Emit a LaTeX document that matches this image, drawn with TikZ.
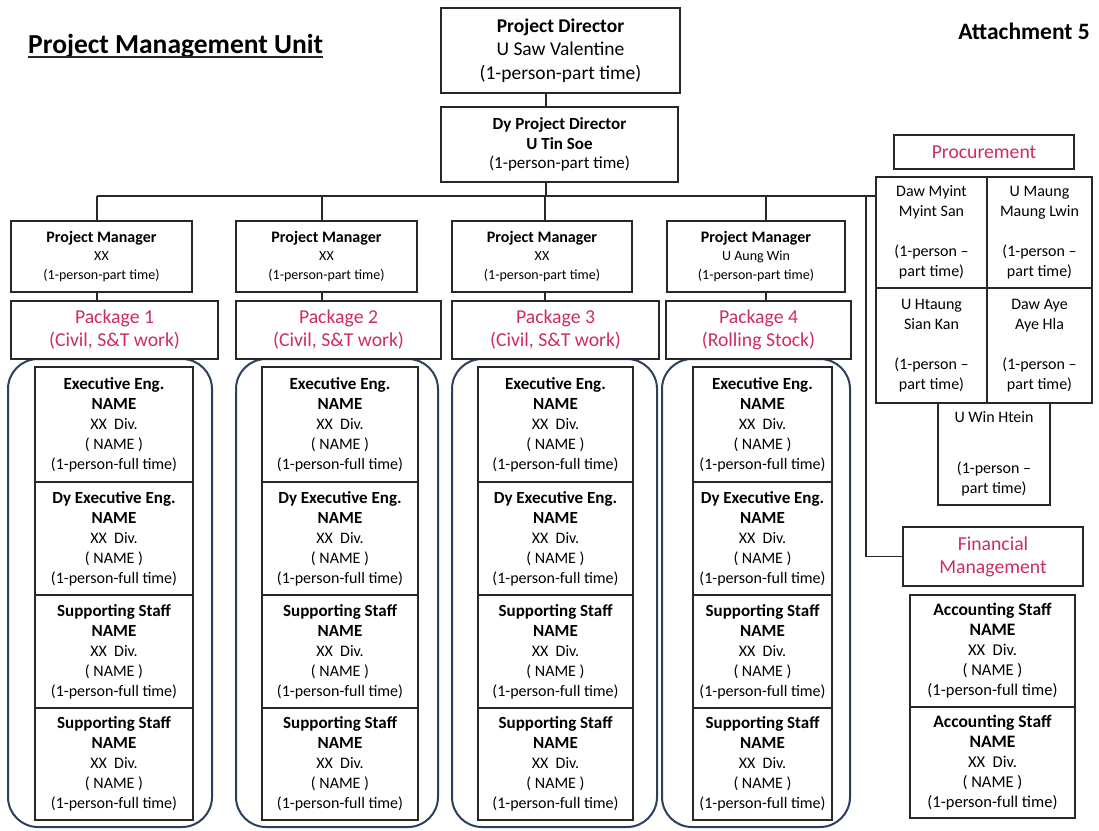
\documentclass[tikz,border=0pt]{standalone}
\usepackage{fontspec}
\setmainfont{Carlito}
\definecolor{ink}{RGB}{40,40,40}
\definecolor{pkred}{RGB}{205,45,95}
\definecolor{lanecol}{RGB}{45,65,95}

% \boxnode{name}{x1}{y1}{x2}{y2}{style}{text}: box spanning the given corners
\newcommand\boxnode[7]{%
  \node[#6, minimum width={#4-#2}, minimum height={#5-#3}] (#1)
    at ({(#2+#4)/2},{(#3+#5)/2}) {#7};}
% bold heading line at its own size
\newcommand\hd[2]{{\fontsize{#1}{#1}\selectfont\bfseries #2}}
\newcommand\stafftext[1]{\hd{17}{#1}\\\hd{17}{NAME}\\XX~~Div.\\( NAME )\\(1-person-full time)}
\newcommand\accttext{\hd{17.5}{Accounting Staff}\\\hd{17.5}{NAME}\\XX~~Div.\\( NAME )\\(1-person-full time)}

\begin{document}
\begin{tikzpicture}[x=1pt,y=-1pt,
  box/.style={draw=ink, line width=1.3pt, fill=white, align=center, inner sep=0pt, text=black},
  pkg/.style={box, text=pkred},
  lane/.style={draw=lanecol, line width=2pt, rounded corners=30pt, inner sep=0pt},
  link/.style={draw=ink, line width=1.3pt},
  fPD/.style={font=\fontsize{19.5}{23.5}\selectfont},
  fDy/.style={font=\fontsize{17}{19.5}\selectfont},
  fPM/.style={font=\fontsize{14}{18.5}\selectfont},
  fPk/.style={font=\fontsize{19.7}{23}\selectfont},
  fSt/.style={font=\fontsize{16}{20}\selectfont},
  fAc/.style={font=\fontsize{16.5}{20}\selectfont},
  fPr/.style={font=\fontsize{16}{20}\selectfont},
]
\useasboundingbox (0,0) rectangle (1099,830);
\fill[white] (0,0) rectangle (1099,830);

% headings
\node[anchor=base west, inner sep=0pt, font=\fontsize{27.5}{30}\selectfont\bfseries] (title) at (28,53) {Project Management Unit};
\draw[line width=1.8pt, ink] ([yshift=-4pt]title.base west) -- ([yshift=-4pt]title.base east);
\node[anchor=east, inner sep=0pt, font=\fontsize{23.5}{26}\selectfont\bfseries] (attach) at (1090,31) {Attachment 5};

% directors
\boxnode{pd}{441}{8}{680}{93}{box,fPD}{\textbf{Project Director}\\U Saw Valentine\\(1-person-part time)}
\boxnode{dy}{441}{107}{678}{182}{box,fDy}{\textbf{Dy Project Director}\\\textbf{U Tin Soe}\\(1-person-part time)}

% project managers
\boxnode{pm1}{11}{221}{192}{292}{box,fPM}{\hd{16}{Project Manager}\\XX\\(1-person-part time)}
\boxnode{pm2}{236}{221}{417}{292}{box,fPM}{\hd{16}{Project Manager}\\XX\\(1-person-part time)}
\boxnode{pm3}{452}{221}{632}{292}{box,fPM}{\hd{16}{Project Manager}\\XX\\(1-person-part time)}
\boxnode{pm4}{667}{221}{845}{292}{box,fPM}{\hd{16}{Project Manager}\\U Aung Win\\(1-person-part time)}

% package lanes
\boxnode{lane1}{8}{359}{212}{827}{lane}{}
\boxnode{lane2}{236}{359}{438}{827}{lane}{}
\boxnode{lane3}{452}{359}{657}{827}{lane}{}
\boxnode{lane4}{662}{359}{850}{827}{lane}{}

% package headers
\boxnode{pk1}{11}{301}{218}{359}{pkg,fPk}{Package 1\\(Civil, S\&T work)}
\boxnode{pk2}{236}{301}{441}{359}{pkg,fPk}{Package 2\\(Civil, S\&T work)}
\boxnode{pk3}{452}{301}{659}{359}{pkg,fPk}{Package 3\\(Civil, S\&T work)}
\boxnode{pk4}{666}{301}{851}{359}{pkg,fPk}{Package 4\\(Rolling Stock)}

% staff of each package
\foreach \c/\xa/\xb in {1/35/193, 2/262/418, 3/478/633, 4/693/832} {
  \foreach \r/\ya/\yb/\ttl in {1/367/482/Executive Eng., 2/482/595/Dy Executive Eng., 3/595/708/Supporting Staff, 4/708/820/Supporting Staff} {
    \boxnode{s\c\r}{\xa}{\ya}{\xb}{\yb}{box,fSt}{\stafftext{\ttl}}
  }
}

% procurement
\boxnode{proc}{894}{135}{1074}{169}{pkg,fPk}{Procurement}
\boxnode{pc1}{876}{177}{987}{288}{box,fPr}{Daw Myint\\Myint San\\\mbox{}\\(1-person \textendash\\part time)}
\boxnode{pc2}{987}{177}{1092}{288}{box,fPr}{U Maung\\Maung Lwin\\\mbox{}\\(1-person \textendash\\part time)}
\boxnode{pc3}{876}{288}{987}{403}{box,fPr}{U Htaung\\Sian Kan\\\mbox{}\\(1-person \textendash\\part time)}
\boxnode{pc4}{987}{288}{1092}{403}{box,fPr}{Daw Aye\\Aye Hla\\\mbox{}\\(1-person \textendash\\part time)}
\boxnode{pc5}{938}{403}{1050}{505}{box,fPr}{U Win Htein\\[31pt](1-person \textendash\\part time)}

% financial management
\boxnode{fin}{903}{527}{1083}{586}{pkg,fPk}{Financial\\Management}
\boxnode{ac1}{910}{595}{1075}{707}{box,fAc}{\accttext}
\boxnode{ac2}{910}{707}{1075}{818}{box,fAc}{\accttext}

% connectors
\coordinate (bus) at (546,196);
\coordinate (b1) at (97,196);
\coordinate (b2) at (322,196);
\coordinate (b3) at (545,196);
\coordinate (b4) at (766,196);
\coordinate (bproc) at (876,196);
\coordinate (bfin) at (866,196);
\draw[link] (pd.south -| bus) -- (dy.north -| bus);
\draw[link] (dy.south -| bus) -- (bus);
\draw[link] (b1) -- (bproc);
\foreach \i in {1,2,3,4} {
  \draw[link] (b\i) -- (b\i |- pm\i.north);
  \draw[link] (b\i |- pm\i.south) -- (b\i |- pk\i.north);
}
\draw[link] (bfin) |- (fin.west);
\end{tikzpicture}
\end{document}
